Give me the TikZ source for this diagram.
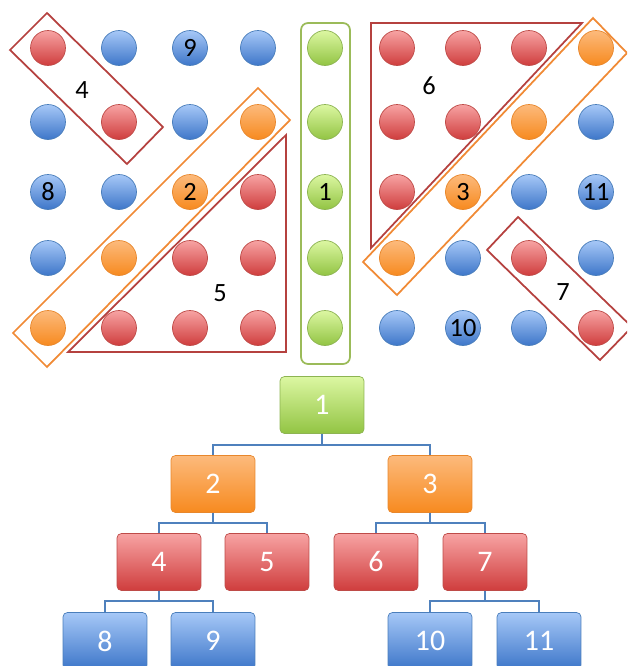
\documentclass[tikz,border=0pt]{standalone}
\usepackage{fontspec}
\setmainfont{Carlito}
\usepackage{xcolor}
\usepackage{tikz}
\definecolor{DotRedTop}{HTML}{F7A3A3}
\definecolor{DotRedBot}{HTML}{CF3D3D}
\definecolor{DotRedLine}{HTML}{BE4B48}
\definecolor{DotBlueTop}{HTML}{A6C8F7}
\definecolor{DotBlueBot}{HTML}{3D76C9}
\definecolor{DotBlueLine}{HTML}{4A7EBB}
\definecolor{DotOrangeTop}{HTML}{FCBA7C}
\definecolor{DotOrangeBot}{HTML}{F78A1F}
\definecolor{DotOrangeLine}{HTML}{E8872C}
\definecolor{DotGreenTop}{HTML}{DCF7A2}
\definecolor{DotGreenBot}{HTML}{92C443}
\definecolor{DotGreenLine}{HTML}{8DB452}
\definecolor{OutRed}{HTML}{B5413F}
\definecolor{OutOrange}{HTML}{F08A35}
\definecolor{OutGreen}{HTML}{9BBB59}
\definecolor{LinkBlue}{HTML}{4F81BD}

\begin{document}
\begin{tikzpicture}[x=0.02cm,y=-0.02cm,
  dot/.style={circle,inner sep=0pt,minimum size=0.70cm,line width=0.4pt},
  dotR/.style={dot,top color=DotRedTop,bottom color=DotRedBot,draw=DotRedLine},
  dotB/.style={dot,top color=DotBlueTop,bottom color=DotBlueBot,draw=DotBlueLine},
  dotO/.style={dot,top color=DotOrangeTop,bottom color=DotOrangeBot,draw=DotOrangeLine},
  dotG/.style={dot,top color=DotGreenTop,bottom color=DotGreenBot,draw=DotGreenLine},
  num/.style={inner sep=0pt,font=\fontsize{15}{15}\selectfont},
  tag/.style={inner sep=0pt,font=\fontsize{15}{15}\selectfont},
  frame/.style={line width=1pt,line join=miter},
  tbox/.style={rectangle,rounded corners=2.5pt,minimum width=1.68cm,minimum height=1.14cm,
    text=white,line width=0.4pt,font=\fontsize{17}{17}\selectfont},
  boxG/.style={tbox,top color=DotGreenTop,bottom color=DotGreenBot,draw=DotGreenLine},
  boxO/.style={tbox,top color=DotOrangeTop,bottom color=DotOrangeBot,draw=DotOrangeLine},
  boxR/.style={tbox,top color=DotRedTop,bottom color=DotRedBot,draw=DotRedLine},
  boxB/.style={tbox,top color=DotBlueTop,bottom color=DotBlueBot,draw=DotBlueLine},
  link/.style={draw=LinkBlue,line width=0.8pt}]
\clip (0,0) rectangle (627,666);
\foreach \cl [count=\j] in {{R,B,B,B,G,R,R,R,O},{B,R,B,O,G,R,R,O,B},{B,B,O,R,G,R,O,B,B},{B,O,R,R,G,O,B,R,B},{O,R,R,R,G,B,B,B,R}}{
  \foreach \c [count=\i] in \cl {
    \pgfmathsetmacro\x{{48,119,190,258,325,397,463,529,596}[\i-1]}
    \pgfmathsetmacro\y{{48,122,192,258,328}[\j-1]}
    \node[dot\c] (p\j\i) at (\x,\y) {};
  }
}
\node[num] (l9) at (p13) {9};
\node[num] (l8) at (p31) {8};
\node[num] (l2) at (p33) {2};
\node[num] (l1) at (p35) {1};
\node[num] (l3) at (p37) {3};
\node[num] (l11) at (p39) {11};
\node[num] (l10) at (p57) {10};
\draw[frame,OutRed] (10,50) -- (47,13) -- (163,127) -- (127,164) -- cycle;
\draw[frame,OutOrange] (13,333) -- (258,88) -- (290,120) -- (47,367) -- cycle;
\draw[frame,OutRed] (68,352) -- (286,352) -- (286,135) -- cycle;
\draw[frame,OutGreen,rounded corners=4pt] (301,23) rectangle (350,364);
\draw[frame,OutRed] (371,23) -- (582,23) -- (371,248) -- cycle;
\draw[frame,OutOrange] (593,18) -- (627,53) -- (397,295) -- (363,262) -- cycle;
\draw[frame,OutRed] (487,250) -- (518,217) -- (632,327) -- (600,360) -- cycle;
\node[tag] (g4) at (82,90) {4};
\node[tag] (g5) at (220,293) {5};
\node[tag] (g6) at (429,86) {6};
\node[tag] (g7) at (563,292) {7};
\node[boxG] (t1) at (322,405) {1};
\node[boxO] (t2) at (213,484) {2};
\node[boxO] (t3) at (430,484) {3};
\node[boxR] (t4) at (159,562) {4};
\node[boxR] (t5) at (267,562) {5};
\node[boxR] (t6) at (376,562) {6};
\node[boxR] (t7) at (485,562) {7};
\node[boxB] (t8) at (105,641) {8};
\node[boxB] (t9) at (213,641) {9};
\node[boxB] (t10) at (430,641) {10};
\node[boxB] (t11) at (539,641) {11};
\draw[link] (t1.south) -- ++(0,11) -| (t2.north);
\draw[link] (t1.south) -- ++(0,11) -| (t3.north);
\draw[link] (t2.south) -- ++(0,10) -| (t4.north);
\draw[link] (t2.south) -- ++(0,10) -| (t5.north);
\draw[link] (t3.south) -- ++(0,10) -| (t6.north);
\draw[link] (t3.south) -- ++(0,10) -| (t7.north);
\draw[link] (t4.south) -- ++(0,10) -| (t8.north);
\draw[link] (t4.south) -- ++(0,10) -| (t9.north);
\draw[link] (t7.south) -- ++(0,10) -| (t10.north);
\draw[link] (t7.south) -- ++(0,10) -| (t11.north);
\end{tikzpicture}
\end{document}
